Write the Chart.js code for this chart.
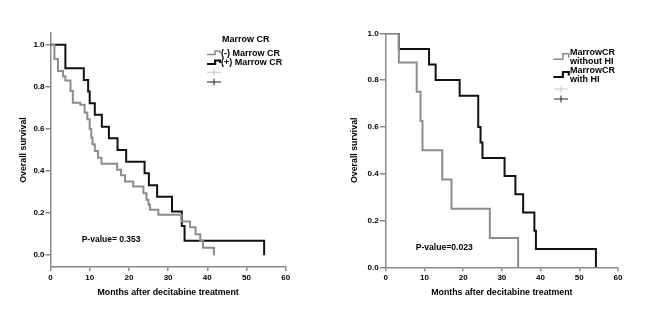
<!DOCTYPE html>
<html>
<head>
<meta charset="utf-8">
<script src="https://cdn.jsdelivr.net/npm/chart.js@4.4.0/dist/chart.umd.min.js"></script>
<style>
  body { margin: 0; background: #fff; }
  #wrap { position: relative; width: 650px; height: 319px; }
  canvas { position: absolute; top: 0; }
</style>
</head>
<body>
<div id="wrap">
  <canvas id="leftChart" width="325" height="319" style="left:0"></canvas>
  <canvas id="rightChart" width="325" height="319" style="left:325px"></canvas>
</div>
<script>
// ticks
const xTicks = [0, 10, 20, 30, 40, 50, 60];
const yTicks = [0, 0.2, 0.4, 0.6, 0.8, 1.0];

// left panel: (-) Marrow CR / (+) Marrow CR
const negCRMonths = [0, 1.0, 1.9, 3.2, 3.8, 5.1, 5.7, 7.6, 8.7, 9.4, 10.0, 10.4, 10.7, 11.3, 12.1, 13.0, 17.0, 18.0, 19.0, 21.1, 23.7, 24.5, 25.0, 25.4, 27.5, 33.4, 35.6, 37.0, 38.2, 38.9, 41.7];
const negCRSurv = [1.0, 0.933, 0.875, 0.85, 0.83, 0.78, 0.725, 0.715, 0.678, 0.646, 0.6, 0.559, 0.527, 0.495, 0.463, 0.435, 0.406, 0.38, 0.35, 0.327, 0.295, 0.263, 0.24, 0.216, 0.192, 0.16, 0.133, 0.1, 0.07, 0.035, 0];
const posCRMonths = [0, 3.8, 8.5, 9.6, 10.0, 11.3, 13.1, 14.9, 17.1, 19.3, 24.0, 25.1, 27.2, 31.0, 33.5, 34.2, 54.5];
const posCRSurv = [1.0, 0.889, 0.833, 0.778, 0.722, 0.667, 0.611, 0.556, 0.5, 0.444, 0.389, 0.333, 0.278, 0.208, 0.139, 0.069, 0];

// right panel: MarrowCR without HI / with HI
const noHIMonths = [0, 3.4, 8.0, 9.0, 9.5, 14.6, 17.0, 26.9, 34.2];
const noHISurv = [1.0, 0.875, 0.75, 0.625, 0.5, 0.375, 0.25, 0.125, 0];
const withHIMonths = [0, 3.4, 11.2, 12.9, 19.1, 23.9, 24.5, 25.0, 30.7, 33.5, 35.5, 38.4, 38.8, 54.3];
const withHISurv = [1.0, 0.933, 0.867, 0.8, 0.733, 0.6, 0.533, 0.467, 0.39, 0.312, 0.234, 0.156, 0.078, 0];

const FONT = '"Liberation Sans", Arial, sans-serif';
Chart.defaults.font.family = FONT;
const axisColor = '#8a8a8a';
const grayLine = '#8c8c8c';
const blackLine = '#111111';

function points(months, surv) {
  return months.map((m, i) => ({ x: m, y: surv[i] }));
}

function kmDataset(label, months, surv, color) {
  return {
    label: label,
    data: points(months, surv),
    stepped: 'before',
    borderColor: color,
    borderWidth: 2,
    pointRadius: 0,
    fill: false
  };
}

// legend + p-value drawn on top
function annotations(spec) {
  return {
    id: 'kmAnnot',
    afterDraw(chart) {
      const ctx = chart.ctx;
      ctx.save();
      ctx.textBaseline = 'middle';
      ctx.textAlign = 'left';
      ctx.fillStyle = '#000';
      spec.texts.forEach(t => {
        ctx.font = 'bold ' + t.size + 'px ' + FONT;
        ctx.fillText(t.text, t.x, t.y);
      });
      spec.steps.forEach(s => {
        ctx.strokeStyle = s.color;
        ctx.lineWidth = s.lw;
        ctx.beginPath();
        ctx.moveTo(s.x, s.y);
        ctx.lineTo(s.x + s.w * 0.62, s.y);
        ctx.lineTo(s.x + s.w * 0.62, s.y - s.h);
        ctx.lineTo(s.x + s.w, s.y - s.h);
        ctx.lineTo(s.x + s.w, s.y - s.h * 0.3);
        ctx.stroke();
      });
      spec.plus.forEach(p => {
        ctx.strokeStyle = p.color;
        ctx.lineWidth = 1;
        ctx.beginPath();
        ctx.moveTo(p.x - 7, p.y);
        ctx.lineTo(p.x + 7, p.y);
        ctx.moveTo(p.x, p.y - 3.5);
        ctx.lineTo(p.x, p.y + 3.5);
        ctx.stroke();
      });
      ctx.restore();
    }
  };
}

function makeOptions(cfg) {
  return {
    responsive: false,
    animation: false,
    layout: { padding: { left: 0, right: cfg.padRight, top: cfg.padTop, bottom: 0 } },
    plugins: { legend: { display: false }, tooltip: { enabled: false } },
    scales: {
      x: {
        type: 'linear',
        min: 0,
        max: 60,
        afterBuildTicks: s => { s.ticks = xTicks.map(v => ({ value: v })); },
        afterFit: s => { s.height = cfg.xHeight; },
        grid: { drawOnChartArea: false, tickLength: 4, color: axisColor, lineWidth: 1.5 },
        border: { color: axisColor, width: 1.5 },
        ticks: { color: '#000', padding: 2, maxRotation: 0, font: { size: 8, weight: 'bold' } },
        title: {
          display: true,
          text: 'Months after decitabine treatment',
          color: '#000',
          font: { size: 8.8, weight: 'bold' },
          padding: { top: 0, bottom: 21 }
        }
      },
      y: {
        type: 'linear',
        min: cfg.yMin,
        max: cfg.yMax,
        afterBuildTicks: s => { s.ticks = yTicks.map(v => ({ value: v })); },
        afterFit: s => { s.width = cfg.yWidth; },
        grid: { drawOnChartArea: false, tickLength: cfg.yTickLen, color: axisColor, lineWidth: 1.5 },
        border: { color: axisColor, width: 1.5 },
        ticks: { color: '#000', padding: 1, font: { size: 8, weight: 'bold' }, callback: v => v.toFixed(1) },
        title: {
          display: true,
          text: 'Overall survival',
          color: '#000',
          font: { size: 8.8, weight: 'bold' },
          padding: { top: cfg.yTitlePad, bottom: 0 }
        }
      }
    }
  };
}

new Chart(document.getElementById('leftChart'), {
  type: 'line',
  data: {
    datasets: [
      kmDataset('(-) Marrow CR', negCRMonths, negCRSurv, grayLine),
      kmDataset('(+) Marrow CR', posCRMonths, posCRSurv, blackLine)
    ]
  },
  options: makeOptions({ padRight: 39.3, padTop: 33, xHeight: 52, yWidth: 50.5, yMin: -0.056, yMax: 1.056, yTickLen: 5, yTitlePad: 18.7 }),
  plugins: [annotations({
    texts: [
      { text: 'Marrow CR', x: 222, y: 40, size: 9 },
      { text: '(-) Marrow CR', x: 221, y: 53.3, size: 9 },
      { text: '(+) Marrow CR', x: 221, y: 62.7, size: 9 },
      { text: 'P-value= 0.353', x: 81.7, y: 240, size: 8.5 }
    ],
    steps: [
      { x: 207, y: 54.5, w: 13, h: 3.5, color: grayLine, lw: 1.5 },
      { x: 207, y: 64, w: 13, h: 3.5, color: blackLine, lw: 2.2 }
    ],
    plus: [
      { x: 214, y: 72.3, color: '#c8c8c8' },
      { x: 214, y: 82, color: '#222' }
    ]
  })]
});

new Chart(document.getElementById('rightChart'), {
  type: 'line',
  data: {
    datasets: [
      kmDataset('MarrowCR without HI', noHIMonths, noHISurv, grayLine),
      kmDataset('MarrowCR with HI', withHIMonths, withHISurv, blackLine)
    ]
  },
  options: makeOptions({ padRight: 32, padTop: 33.3, xHeight: 51.7, yWidth: 60.7, yMin: 0, yMax: 1.0, yTickLen: 6, yTitlePad: 24.7 }),
  plugins: [annotations({
    texts: [
      { text: 'MarrowCR', x: 245, y: 52.3, size: 9 },
      { text: 'without HI', x: 245, y: 61.7, size: 9 },
      { text: 'MarrowCR', x: 245, y: 70.7, size: 9 },
      { text: 'with HI', x: 245, y: 79.3, size: 9 },
      { text: 'P-value=0.023', x: 90.7, y: 247.3, size: 8.6 }
    ],
    steps: [
      { x: 228.3, y: 59.3, w: 15.5, h: 5.5, color: grayLine, lw: 1.5 },
      { x: 228.3, y: 77, w: 15.5, h: 5, color: blackLine, lw: 2.2 }
    ],
    plus: [
      { x: 236, y: 89, color: '#c8c8c8' },
      { x: 236, y: 99, color: '#222' }
    ]
  })]
});
</script>
</body>
</html>
